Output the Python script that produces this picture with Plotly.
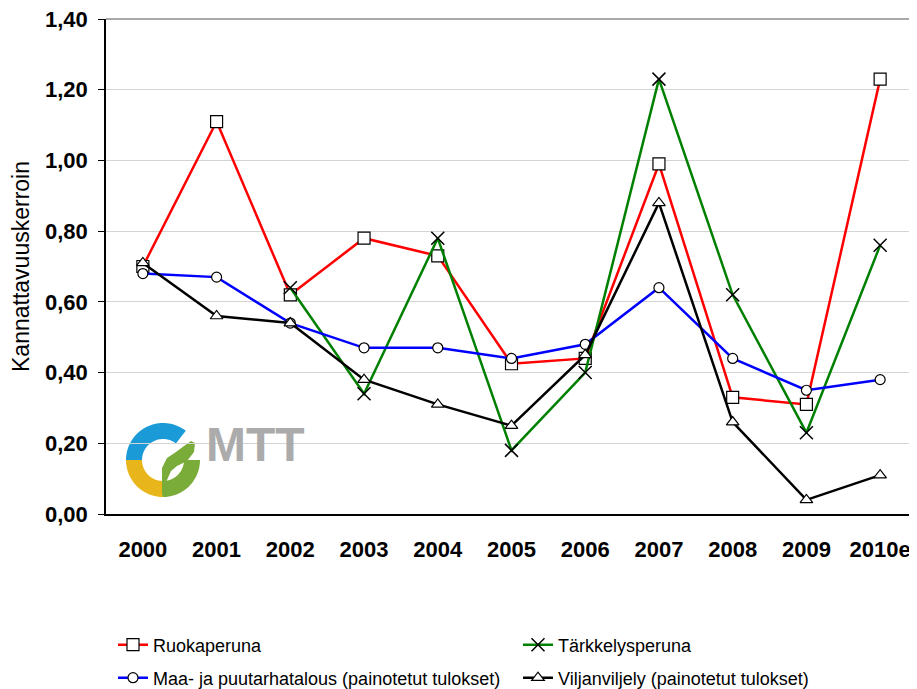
import math
import plotly.graph_objects as go

years = ["2000", "2001", "2002", "2003", "2004", "2005", "2006", "2007", "2008", "2009", "2010e"]
ruokaperuna = [0.70, 1.11, 0.62, 0.78, 0.73, 0.425, 0.44, 0.99, 0.33, 0.31, 1.23]
tarkkelysperuna = [None, None, 0.64, 0.34, 0.78, 0.18, 0.40, 1.23, 0.62, 0.23, 0.76]
maa_puutarha = [0.68, 0.67, 0.54, 0.47, 0.47, 0.44, 0.48, 0.64, 0.44, 0.35, 0.38]
viljanviljely = [0.71, 0.56, 0.54, 0.38, 0.31, 0.25, 0.45, 0.88, 0.26, 0.04, 0.11]

FONT = "Liberation Sans, Arial, sans-serif"

fig = go.Figure()
fig.add_trace(go.Scatter(
    x=years, y=ruokaperuna, name="Ruokaperuna", mode="lines+markers",
    line=dict(color="#ff0000", width=2.5),
    marker=dict(symbol="square", size=12, color="white", line=dict(color="black", width=1.2)),
    legend="legend"))
fig.add_trace(go.Scatter(
    x=years, y=tarkkelysperuna, name="Tärkkelysperuna", mode="lines+markers",
    line=dict(color="#008000", width=2.5),
    marker=dict(symbol="x-thin", size=13, color="black", line=dict(color="black", width=1.5)),
    legend="legend2"))
fig.add_trace(go.Scatter(
    x=years, y=maa_puutarha, name="Maa- ja puutarhatalous (painotetut tulokset)", mode="lines+markers",
    line=dict(color="#0000ff", width=2.5),
    marker=dict(symbol="circle", size=10, color="white", line=dict(color="black", width=1.2)),
    legend="legend3"))
fig.add_trace(go.Scatter(
    x=years, y=viljanviljely, name="Viljanviljely (painotetut tulokset)", mode="lines+markers",
    line=dict(color="#000000", width=2.5),
    marker=dict(symbol="triangle-up", size=11, color="white", line=dict(color="black", width=1.2)),
    legend="legend4"))

# The page body has an 8px margin, so the figure sits 8px from the window's top-left.
OFF = 8
W, H = 917 - OFF, 689 - OFF
L, R, T = 106 - OFF, 0, 19 - OFF
B = H - (514 - OFF)
pw, ph = W - L - R, H - T - B


def px2paper(x, y):
    # x, y in window pixels
    return (x - OFF - L) / pw, (H - B - (y - OFF)) / ph


def arc_path(cx, cy, r1, r2, a0, a1, n=40):
    pts = []
    for i in range(n + 1):
        a = math.radians(a0 + (a1 - a0) * i / n)
        pts.append((cx + r2 * math.cos(a), cy - r2 * math.sin(a)))
    for i in range(n, -1, -1):
        a = math.radians(a0 + (a1 - a0) * i / n)
        pts.append((cx + r1 * math.cos(a), cy - r1 * math.sin(a)))
    s = ""
    for i, (x, y) in enumerate(pts):
        u, v = px2paper(x, y)
        s += ("M" if i == 0 else "L") + f"{u:.5f},{v:.5f} "
    return s + "Z"


def poly_path(points):
    s = ""
    for i, (x, y) in enumerate(points):
        u, v = px2paper(x, y)
        s += ("M" if i == 0 else "L") + f"{u:.5f},{v:.5f} "
    return s + "Z"


cx, cy = 163, 460
shapes = [
    dict(type="path", xref="paper", yref="paper", path=arc_path(cx, cy, 21, 37, 180, 52),
         fillcolor="#1a9ad6", line=dict(width=0), layer="below"),
    dict(type="path", xref="paper", yref="paper", path=arc_path(cx, cy, 21, 37, 180, 270),
         fillcolor="#e8b61a", line=dict(width=0), layer="below"),
    dict(type="path", xref="paper", yref="paper", path=arc_path(cx, cy, 21, 37, 270, 360),
         fillcolor="#7aac3a", line=dict(width=0), layer="below"),
    dict(type="path", xref="paper", yref="paper",
         path=poly_path([(162, 497), (162, 468), (167, 458), (176, 452), (184, 446), (191, 441),
                         (195, 443), (194, 452), (187, 461), (177, 466), (171, 471), (167, 480)]),
         fillcolor="#7aac3a", line=dict(width=0), layer="below"),
    dict(type="line", xref="paper", yref="paper", x0=0, x1=1, y0=1, y1=1,
         line=dict(color="#8c8c8c", width=1.5)),
]

mx, my = px2paper(255, 444)

legend_font = dict(size=18, family=FONT, color="black")
_, row1_y = px2paper(0, 645)
_, row2_y = px2paper(0, 678)
col1_x, _ = px2paper(113, 0)
col2_x, _ = px2paper(518, 0)


def leg(x, y):
    return dict(orientation="h", x=x, xanchor="left", y=y, yanchor="middle",
                font=legend_font, itemwidth=30, bgcolor="rgba(0,0,0,0)")


fig.update_layout(
    width=W, height=H,
    margin=dict(l=L, r=R, t=T, b=B, autoexpand=False),
    paper_bgcolor="white", plot_bgcolor="white",
    separators=", ",
    font=dict(family=FONT, color="black"),
    shapes=shapes,
    annotations=[dict(text="<b>MTT</b>", x=mx, y=my, xref="paper", yref="paper",
                      showarrow=False, font=dict(family=FONT, size=48, color="#ababab"),
                      xanchor="center", yanchor="middle")],
    xaxis=dict(
        type="category", showgrid=False, showline=True, linecolor="black", linewidth=1.5,
        ticks="", tickfont=dict(size=22, family=FONT, weight="bold"),
        ticklabelstandoff=15, range=[-0.5, 10.5], automargin=False,
        ticklabeloverflow="allow"),
    yaxis=dict(
        range=[0, 1.4], dtick=0.2, tickformat=".2f", showgrid=True, gridcolor="#d4d4d4",
        gridwidth=1, showline=True, linecolor="black", linewidth=1.5, ticks="outside",
        ticklen=6, tickcolor="black", tickfont=dict(size=22, family=FONT, weight="bold"),
        ticklabelstandoff=6, zeroline=False, automargin=False, ticklabeloverflow="allow",
        title=dict(text="Kannattavuuskerroin", font=dict(size=23, family=FONT), standoff=10)),
    legend=leg(col1_x, row1_y),
    legend2=leg(col2_x, row1_y),
    legend3=leg(col1_x, row2_y),
    legend4=leg(col2_x, row2_y),
    showlegend=True,
)

fig.write_html("out.html")
